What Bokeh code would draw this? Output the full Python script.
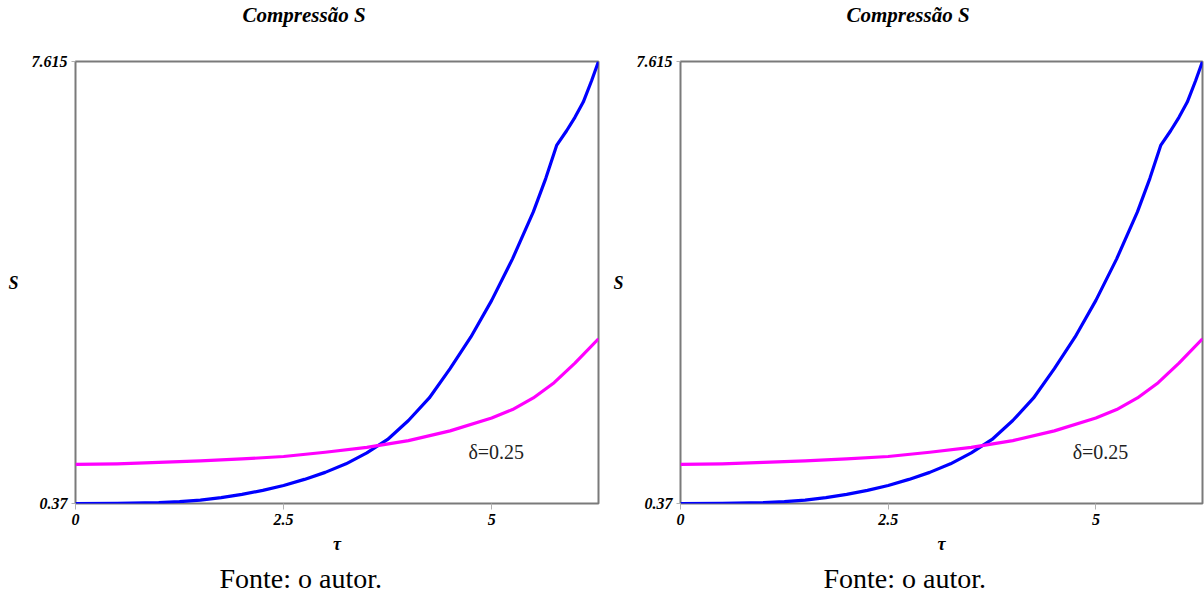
import math
from bokeh.plotting import figure
from bokeh.layouts import row
from bokeh.models import Range1d, FixedTicker, Label, Title
from bokeh.embed import file_html
from bokeh.resources import INLINE

# ---- data ----
tau_blue = [0, 0.5, 1.0, 1.25, 1.5, 1.75, 2.0, 2.25, 2.5, 2.75, 3.0, 3.25, 3.5, 3.75,
            4.0, 4.25, 4.5, 4.75, 5.0, 5.25, 5.5, 5.65, 5.78, 5.9, 6.0, 6.1, 6.2, 2 * math.pi]
s_blue = [0.370, 0.372, 0.385, 0.40, 0.425, 0.465, 0.52, 0.585, 0.665, 0.765, 0.88, 1.02,
          1.20, 1.42, 1.73, 2.10, 2.58, 3.10, 3.70, 4.38, 5.15, 5.70, 6.24, 6.48, 6.70,
          6.95, 7.30, 7.615]

tau_mag = [0, 0.5, 1.0, 1.5, 2.0, 2.5, 3.0, 3.5, 4.0, 4.5, 5.0, 5.25, 5.5, 5.75, 6.0, 2 * math.pi]
s_mag = [1.01, 1.02, 1.045, 1.07, 1.10, 1.14, 1.21, 1.29, 1.40, 1.56, 1.77, 1.91, 2.10,
         2.35, 2.67, 3.07]

x_ticks = [0, 2.5, 5]
x_tick_labels = ["0", "2.5", "5"]
y_ticks = [0.37, 7.615]
y_tick_labels = ["0.37", "7.615"]

title_text = "Compressão S"
caption_text = "Fonte: o autor."
delta_text = "δ=0.25"
delta_pos = (4.72, 1.21)

SERIF = "Liberation Serif"


def make_panel(width, border_left, border_right, title_off, cap_off):
    p = figure(width=width, height=603, output_backend="svg", toolbar_location=None,
               x_range=Range1d(0, 2 * math.pi), y_range=Range1d(y_ticks[0], y_ticks[1]),
               min_border_left=border_left, min_border_right=border_right,
               min_border_top=61, min_border_bottom=100,
               background_fill_color="white", border_fill_color="white")
    p.title.text = ""
    p.grid.visible = False
    p.outline_line_color = "#7a7a7a"
    p.outline_line_width = 2
    p.outline_line_alpha = 1

    # spacer + title above the frame (first added sits next to the frame)
    p.add_layout(Title(text=" ", text_font_size="1px", standoff=32), "above")
    p.add_layout(Title(text=title_text, text_font=SERIF, text_font_style="bold italic",
                       text_font_size="21px", text_color="black", align="left",
                       offset=title_off, vertical_align="bottom", standoff=0), "above")

    for ax in (p.xaxis[0], p.yaxis[0]):
        ax.axis_line_color = None
        ax.major_tick_line_color = "#b0b0b0"
        ax.minor_tick_line_color = None
        ax.major_tick_in = 0
        ax.major_label_text_font = SERIF
        ax.major_label_text_font_style = "bold italic"
        ax.major_label_text_font_size = "16px"
        ax.major_label_text_color = "black"
        ax.axis_label_text_font = SERIF
        ax.axis_label_text_font_style = "bold italic"
        ax.axis_label_text_font_size = "18px"
        ax.axis_label_text_color = "black"

    xa = p.xaxis[0]
    xa.ticker = FixedTicker(ticks=x_ticks)
    xa.major_label_overrides = {t: l for t, l in zip(x_ticks, x_tick_labels)}
    xa.major_tick_out = 6
    xa.major_label_standoff = 4
    xa.axis_label = "τ"
    xa.axis_label_standoff = 6

    ya = p.yaxis[0]
    ya.ticker = FixedTicker(ticks=y_ticks)
    ya.major_label_overrides = {t: l for t, l in zip(y_ticks, y_tick_labels)}
    ya.major_tick_out = 4
    ya.major_label_standoff = 4
    ya.axis_label = "S"
    ya.axis_label_orientation = "horizontal"
    ya.axis_label_standoff = 10

    p.line(tau_blue, s_blue, line_color="#0000ff", line_width=3.2, line_join="round")
    p.line(tau_mag, s_mag, line_color="#ff00ff", line_width=3.2, line_join="round")

    p.add_layout(Label(x=delta_pos[0], y=delta_pos[1], text=delta_text,
                       text_font=SERIF, text_font_style="normal",
                       text_font_size="20px", text_color="#222222",
                       text_baseline="middle", text_align="left"))

    cap = Title(text=caption_text, text_font=SERIF, text_font_style="normal",
                text_font_size="28px", align="left", offset=cap_off, text_color="black",
                vertical_align="top", standoff=12)
    p.add_layout(cap, "below")
    return p


p1 = make_panel(604, 75, 6, 167, 144)
p2 = make_panel(600, 76, 2, 166, 143)
layout = row(p1, p2, spacing=0)

open("out.html", "w").write(file_html(layout, INLINE))
